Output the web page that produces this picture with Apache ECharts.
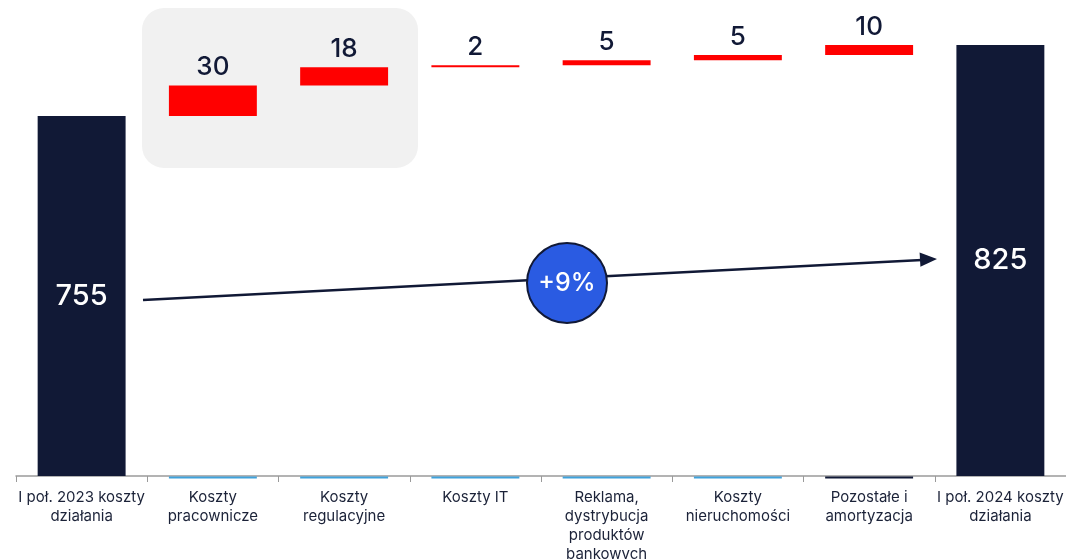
<!DOCTYPE html>
<html>
<head>
<meta charset="utf-8">
<script src="https://cdn.jsdelivr.net/npm/echarts@6/dist/echarts.min.js"></script>
<style>
  html, body { margin: 0; padding: 0; background: #fff; }
  #main { width: 1066px; height: 559px; }
</style>
</head>
<body>
<div id="main"></div>
<script>
var categories = [
  'I poł. 2023 koszty\ndziałania',
  'Koszty\npracownicze',
  'Koszty\nregulacyjne',
  'Koszty IT',
  'Reklama,\ndystrybucja\nproduktów\nbankowych',
  'Koszty\nnieruchomości',
  'Pozostałe i\namortyzacja',
  'I poł. 2024 koszty\ndziałania'
];
var values = [755, 30, 18, 2, 5, 5, 10, 825];
var isTotal = [true, false, false, false, false, false, false, true];
var stubColors = [null, '#3fa2dc', '#3fa2dc', '#3fa2dc', '#3fa2dc', '#3fa2dc', '#111936', null];
var growthLabel = '+9%';

var navy = '#111936';
var red = '#ff0000';

// niewidoczna podstawa pod słupkami zmian
var base = [];
var running = 0;
values.forEach(function (v, i) {
  if (isTotal[i]) {
    base.push(0);
    running = v;
  } else {
    base.push(running);
    running += v;
  }
});

var barData = values.map(function (v, i) {
  if (isTotal[i]) {
    return {
      value: v,
      itemStyle: { color: navy },
      label: { position: 'inside', color: '#fff', fontSize: 29, fontWeight: 500 }
    };
  }
  return {
    value: v,
    itemStyle: { color: red },
    label: { position: 'top', distance: 5, color: navy, fontSize: 26, fontWeight: 500 }
  };
});

var chart = echarts.init(document.getElementById('main'));
chart.setOption({
  animation: false,
  textStyle: { fontFamily: 'Inter, "Noto Sans", sans-serif' },
  grid: { left: 16, right: 0, top: 19.6, bottom: 83, outerBoundsMode: 'none', containLabel: false },
  xAxis: {
    type: 'category',
    data: categories,
    axisLine: { lineStyle: { color: '#9a9a9a', width: 1.5 } },
    axisTick: { show: true, length: 6, lineStyle: { color: '#9a9a9a' } },
    axisLabel: { interval: 0, color: '#1b2238', fontSize: 15, lineHeight: 19, margin: 12 }
  },
  yAxis: {
    type: 'value',
    min: 400,
    max: 850,
    show: false,
    splitLine: { show: false }
  },
  graphic: [
    {
      type: 'rect',
      z: 0,
      silent: true,
      shape: { x: 142, y: 8, width: 276, height: 160, r: 22 },
      style: { fill: '#f1f1f1' }
    },
    {
      type: 'line',
      z: 10,
      silent: true,
      shape: { x1: 143, y1: 300, x2: 922, y2: 260 },
      style: { stroke: navy, lineWidth: 2.5 }
    },
    {
      type: 'polygon',
      z: 10,
      silent: true,
      shape: { points: [[937, 259], [920.4, 266.8], [919.6, 252.4]] },
      style: { fill: navy }
    },
    {
      type: 'circle',
      z: 11,
      silent: true,
      shape: { cx: 567, cy: 283, r: 40 },
      style: { fill: '#2a5be2', stroke: navy, lineWidth: 2 }
    },
    {
      type: 'text',
      z: 12,
      silent: true,
      x: 567,
      y: 283,
      style: {
        text: growthLabel,
        fill: '#fff',
        font: '500 25px Inter, "Noto Sans", sans-serif',
        align: 'center',
        verticalAlign: 'middle'
      }
    }
  ],
  series: [
    {
      type: 'bar',
      stack: 'wf',
      barWidth: '67%',
      silent: true,
      itemStyle: { color: 'transparent' },
      data: base
    },
    {
      type: 'bar',
      stack: 'wf',
      barWidth: '67%',
      label: { show: true },
      data: barData
    },
    {
      type: 'custom',
      silent: true,
      z: 5,
      data: stubColors.map(function (c, i) { return [i, c ? 1 : 0]; }),
      renderItem: function (params, api) {
        var idx = api.value(0);
        if (!api.value(1)) return null;
        var p = api.coord([idx, 400]);
        var w = api.size([1, 0])[0] * 0.67;
        return {
          type: 'rect',
          shape: { x: p[0] - w / 2, y: p[1] + 0.5, width: w, height: 2 },
          style: { fill: stubColors[idx] }
        };
      }
    }
  ]
});
</script>
</body>
</html>
